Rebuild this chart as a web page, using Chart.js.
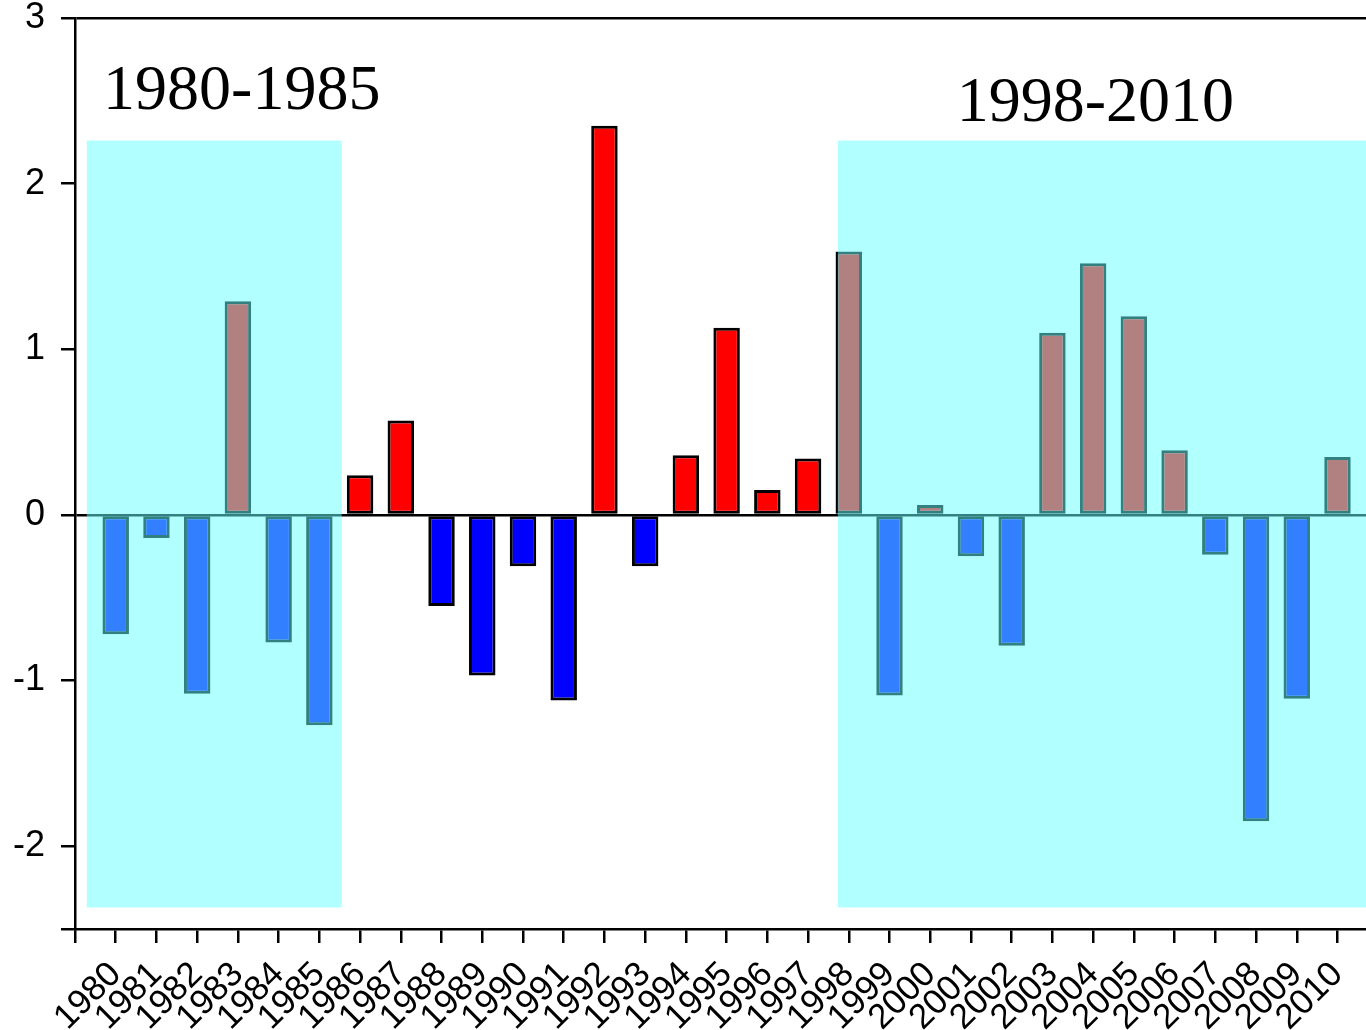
<!DOCTYPE html>
<html>
<head>
<meta charset="utf-8">
<script src="https://cdn.jsdelivr.net/npm/chart.js@4/dist/chart.umd.min.js"></script>
<style>
  html, body { margin: 0; padding: 0; background: #ffffff; }
  #wrap { width: 1366px; height: 1030px; }
</style>
</head>
<body>
<div id="wrap"><canvas id="chart" width="1366" height="1030"></canvas></div>
<script>
// Yearly anomaly index, 1980-2010
const years = [1980, 1981, 1982, 1983, 1984, 1985, 1986, 1987, 1988, 1989, 1990,
               1991, 1992, 1993, 1994, 1995, 1996, 1997, 1998, 1999, 2000,
               2001, 2002, 2003, 2004, 2005, 2006, 2007, 2008, 2009, 2010];
const anomalies = [-0.72, -0.14, -1.08, 1.29, -0.77, -1.27, 0.24, 0.57, -0.55, -0.97, -0.31,
                   -1.12, 2.35, -0.31, 0.36, 1.13, 0.15, 0.34, 1.59, -1.09, 0.06,
                   -0.25, -0.79, 1.10, 1.52, 1.20, 0.39, -0.24, -1.85, -1.11, 0.35];

// Highlighted periods (x span in years, y span in index units) and their titles
const periodTitles = ['1980-1985', '1998-2010'];
const periodSpans = [[1979.29, 1985.55], [1997.73, 2010.7]];
const periodYRange = [-2.37, 2.26];
const titleAnchors = [[1979.69, 2.45], [2000.65, 2.38]];

const xMin = 1979, xMax = 2010.7;
const yMin = -2.5, yMax = 3;

const POS_COLOR = '#ff0000';
const NEG_COLOR = '#0000ff';
const SHADE = 'rgba(100, 255, 255, 0.5)';

const periodPlugin = {
  id: 'periods',
  afterDatasetsDraw(chart) {
    const { ctx, scales: { x, y } } = chart;
    ctx.save();
    ctx.fillStyle = SHADE;
    const top = y.getPixelForValue(periodYRange[1]);
    const bottom = y.getPixelForValue(periodYRange[0]);
    periodSpans.forEach(([a, b]) => {
      const left = x.getPixelForValue(a);
      const right = x.getPixelForValue(b);
      ctx.fillRect(left, top, right - left, bottom - top);
    });
    ctx.restore();
  },
  afterDraw(chart) {
    const { ctx, scales: { x, y } } = chart;
    ctx.save();
    ctx.fillStyle = '#000000';
    ctx.font = '64px "Liberation Serif", "Times New Roman", serif';
    ctx.textAlign = 'left';
    ctx.textBaseline = 'alphabetic';
    periodTitles.forEach((t, i) => {
      const [vx, vy] = titleAnchors[i];
      ctx.fillText(t, x.getPixelForValue(vx), y.getPixelForValue(vy));
    });
    ctx.restore();
  }
};

new Chart(document.getElementById('chart'), {
  type: 'bar',
  data: {
    datasets: [{
      data: years.map((yr, i) => ({ x: yr, y: anomalies[i] })),
      backgroundColor: anomalies.map(v => v >= 0 ? POS_COLOR : NEG_COLOR),
      borderColor: '#000000',
      borderWidth: 3,
      borderSkipped: false,
      categoryPercentage: 1,
      barPercentage: 0.65
    }]
  },
  options: {
    responsive: false,
    animation: false,
    devicePixelRatio: 1,
    layout: { padding: { top: 18, right: 0, left: 0, bottom: 0 } },
    plugins: { legend: { display: false }, tooltip: { enabled: false } },
    scales: {
      x: {
        type: 'linear',
        min: xMin,
        max: xMax,
        offset: false,
        afterBuildTicks: s => {
          s.ticks = [xMin, ...years].map(v => ({ value: v }));
        },
        afterFit: s => {
          s.height = 101;
          s.paddingLeft = 0;
          s.paddingRight = 0;
        },
        ticks: {
          autoSkip: false,
          maxRotation: 45,
          minRotation: 45,
          padding: 11,
          color: '#000000',
          font: { family: '"Liberation Sans", Arial, sans-serif', size: 35 },
          callback: v => (v >= years[0] ? String(v) : '')
        },
        grid: {
          offset: false,
          drawOnChartArea: false,
          drawTicks: true,
          tickLength: 14,
          tickColor: '#000000',
          tickWidth: 2.5,
          color: '#000000',
          lineWidth: 2.5
        },
        border: { display: true, color: '#000000', width: 2.5 }
      },
      y: {
        min: yMin,
        max: yMax,
        afterFit: s => {
          s.width = 75;
          s.paddingTop = 0;
          s.paddingBottom = 0;
        },
        ticks: {
          stepSize: 1,
          padding: 16,
          color: '#000000',
          font: { family: '"Liberation Sans", Arial, sans-serif', size: 36 },
          callback: v => (Number.isInteger(v) ? String(v) : '')
        },
        grid: {
          drawOnChartArea: true,
          drawTicks: true,
          tickLength: 14,
          tickColor: '#000000',
          tickWidth: 2.5,
          lineWidth: 2.5,
          color: ctx => (ctx.tick && (ctx.tick.value === 0 || ctx.tick.value === yMax)) ? '#000000' : 'rgba(0,0,0,0)'
        },
        border: { display: true, color: '#000000', width: 2.5 }
      }
    }
  },
  plugins: [periodPlugin]
});
</script>
</body>
</html>
